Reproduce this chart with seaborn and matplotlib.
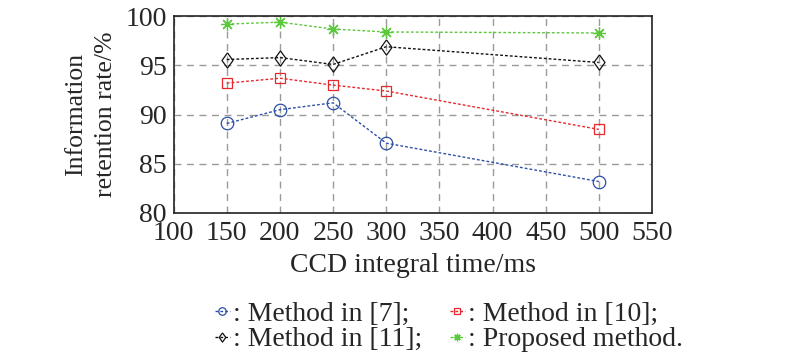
import matplotlib
matplotlib.use("Agg")
import matplotlib.pyplot as plt
import pandas as pd
import seaborn as sns

# CCD integral time (ms)
times = [150, 200, 250, 300, 500]

# information retention rate (%) per method
method_7 = [89.1, 90.5, 91.2, 87.1, 83.2]
method_10 = [93.2, 93.7, 93.0, 92.4, 88.5]
method_11 = [95.6, 95.8, 95.1, 96.9, 95.3]
proposed = [99.2, 99.4, 98.7, 98.4, 98.3]

labels = [": Method in [7];", ": Method in [10];",
          ": Method in [11];", ": Proposed method."]
series = [method_7, method_10, method_11, proposed]
colors = ["#2b4ea6", "#e8262b", "#111111", "#5cc83c"]
diamond = [(0, 1), (0.72, 0), (0, -1), (-0.72, 0), (0, 1)]
markers = ["o", "s", diamond, (8, 2, 0)]
sizes = [9, 7, 11, 9]

df = pd.concat(
    [pd.DataFrame({"time": times, "rate": vals, "method": lab})
     for lab, vals in zip(labels, series)],
    ignore_index=True,
)

sns.set_style("white")
plt.rcParams["font.family"] = ["Liberation Serif", "DejaVu Serif"]

fig = plt.figure(figsize=(8, 3.61), dpi=100)
ax = fig.add_axes([0.217, 0.41, 0.598, 0.545])

for lab, col, mk, ms in zip(labels, colors, markers, sizes):
    sub = df[df["method"] == lab]
    sns.lineplot(data=sub, x="time", y="rate", ax=ax, color=col,
                 linestyle=(0, (2, 1.5)), linewidth=1.0, marker=mk,
                 markersize=ms, markerfacecolor="none",
                 markeredgecolor=col, markeredgewidth=0.9, label=lab)
h, l = ax.get_legend_handles_labels()
if ax.get_legend() is not None:
    ax.get_legend().remove()

ax.set_xlim(100, 550)
ax.set_ylim(80, 100)
ax.set_xticks(range(100, 551, 50))
ax.set_yticks(range(80, 101, 5))
ax.grid(True, color="#9a9a9a", linestyle=(0, (5, 4)), linewidth=1.0)
ax.tick_params(labelsize=20, direction="in", length=3)
ax.tick_params(axis="y", pad=5)
ax.tick_params(axis="x", pad=6)
for s in ax.spines.values():
    s.set_color("#222222")
    s.set_linewidth(1.2)
ax.set_xlabel("CCD integral time/ms", fontsize=20, labelpad=5)
ax.set_ylabel("Information\nretention rate/%", fontsize=18.5, linespacing=1.45,
              labelpad=6)

order = [0, 2, 1, 3]
fig.legend([h[i] for i in order], [l[i] for i in order], loc="lower center",
           bbox_to_anchor=(0.561, -0.045), ncol=2, frameon=False,
           fontsize=20, handlelength=0.55, handletextpad=0.1,
           columnspacing=1.0, labelspacing=0.0, markerscale=0.6)

fig.savefig("out.png", dpi=100)
